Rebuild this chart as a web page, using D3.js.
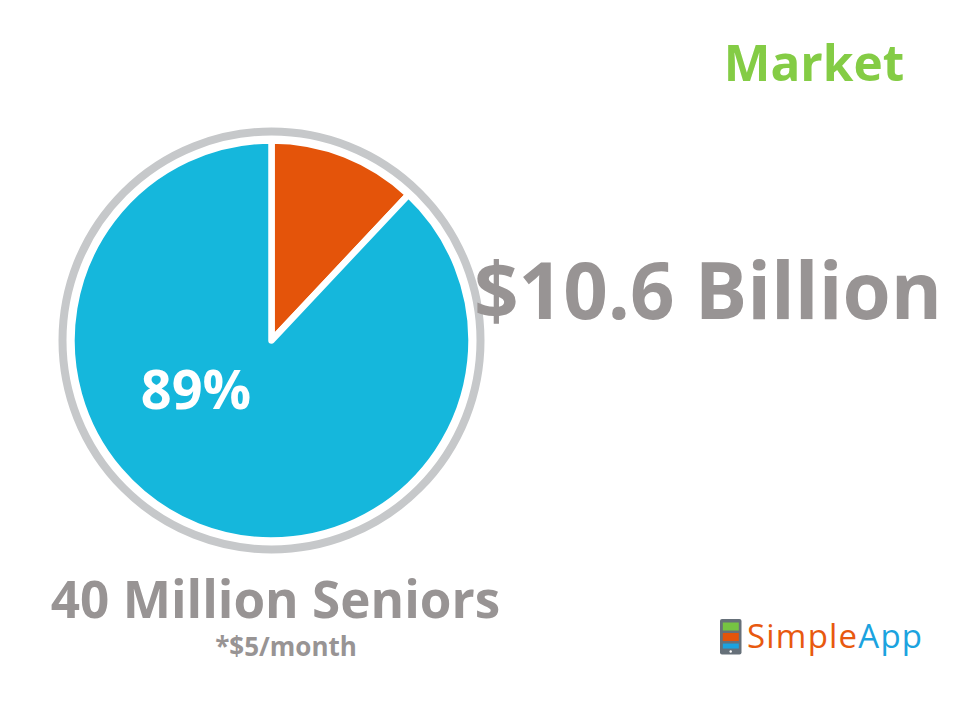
<!DOCTYPE html>
<html>
<head>
<meta charset="utf-8">
<script src="https://cdn.jsdelivr.net/npm/d3@7"></script>
<style>
    html, body { margin: 0; padding: 0; background: #fff; }
    text { font-family: "Open Sans", "Noto Sans", sans-serif; font-weight: 700; }
</style>
</head>
<body>
<div id="chart"></div>
<script>
// slice shares as they are drawn in the picture (orange wedge spans about 43 degrees)
var sliceNames = ["Seniors", "Market share"];
var sliceValues = [88, 12];
var sliceColors = ["#15b7dc", "#e4540a"];

var logoBars = ["green", "orange", "blue"];
var logoBarHeights = [8, 8, 5];
var logoBarColors = ["#76c442", "#e4540a", "#1ba3df"];

var width = 960;
var height = 720;

var svg = d3.select("#chart")
    .append("svg")
    .attr("width", width)
    .attr("height", height)
    .style("display", "block");

var pieGroup = svg.append("g")
    .attr("transform", "translate(271.5, 340.5)");

// grey ring round the pie
pieGroup.append("circle")
    .attr("r", 209)
    .attr("fill", "none")
    .attr("stroke", "#c6c8ca")
    .attr("stroke-width", 8);

// orange comes first, clockwise from 12 o'clock
var pie = d3.pie()
    .sort(null)
    .value(function(d) { return d.value; });

var sliceData = sliceNames.map(function(name, i) {
    return { name: name, value: sliceValues[i], color: sliceColors[i] };
}).reverse();

var arc = d3.arc()
    .innerRadius(0)
    .outerRadius(200);

pieGroup.selectAll("path")
    .data(pie(sliceData))
    .enter()
    .append("path")
    .attr("d", arc)
    .attr("fill", function(d) { return d.data.color; })
    .attr("stroke", "#fff")
    .attr("stroke-width", 6.5)
    .attr("stroke-linejoin", "round");

svg.append("text")
    .attr("x", 196)
    .attr("y", 409)
    .attr("text-anchor", "middle")
    .attr("font-size", 54)
    .attr("fill", "#fff")
    .text("89%");

svg.append("text")
    .attr("x", 814)
    .attr("y", 81)
    .attr("text-anchor", "middle")
    .attr("font-size", 49.5)
    .attr("fill", "#84cc45")
    .text("Market");

svg.append("text")
    .attr("x", 708)
    .attr("y", 319)
    .attr("text-anchor", "middle")
    .attr("font-size", 78)
    .attr("fill", "#989494")
    .text("$10.6 Billion");

svg.append("text")
    .attr("x", 275.5)
    .attr("y", 618)
    .attr("text-anchor", "middle")
    .attr("font-size", 51.2)
    .attr("fill", "#989494")
    .text("40 Million Seniors");

svg.append("text")
    .attr("x", 286)
    .attr("y", 656)
    .attr("text-anchor", "middle")
    .attr("font-size", 26)
    .attr("fill", "#989494")
    .text("*$5/month");

// logo
var logo = svg.append("g")
    .attr("transform", "translate(720, 619)");

logo.append("rect")
    .attr("width", 21.5)
    .attr("height", 35.5)
    .attr("rx", 2)
    .attr("fill", "#667079");

var logoY = d3.scaleBand()
    .domain(logoBars)
    .range([3.5, 34])
    .paddingInner(0.1);

logo.selectAll(".bar")
    .data(logoBars)
    .enter()
    .append("rect")
    .attr("class", "bar")
    .attr("x", 2.8)
    .attr("y", function(d) { return logoY(d); })
    .attr("width", 16)
    .attr("height", function(d, i) { return logoBarHeights[i]; })
    .attr("fill", function(d, i) { return logoBarColors[i]; });

logo.append("circle")
    .attr("cx", 10.7)
    .attr("cy", 32.5)
    .attr("r", 1.2)
    .attr("fill", "#fff");

var logoText = svg.append("text")
    .attr("x", 747)
    .attr("y", 648)
    .attr("font-size", 33)
    .attr("textLength", 175)
    .style("font-family", "'Open Sans', Lato, sans-serif")
    .style("font-weight", 500);

logoText.append("tspan").attr("fill", "#e8590f").text("Simple");
logoText.append("tspan").attr("fill", "#1ba3df").text("App");
</script>
</body>
</html>
